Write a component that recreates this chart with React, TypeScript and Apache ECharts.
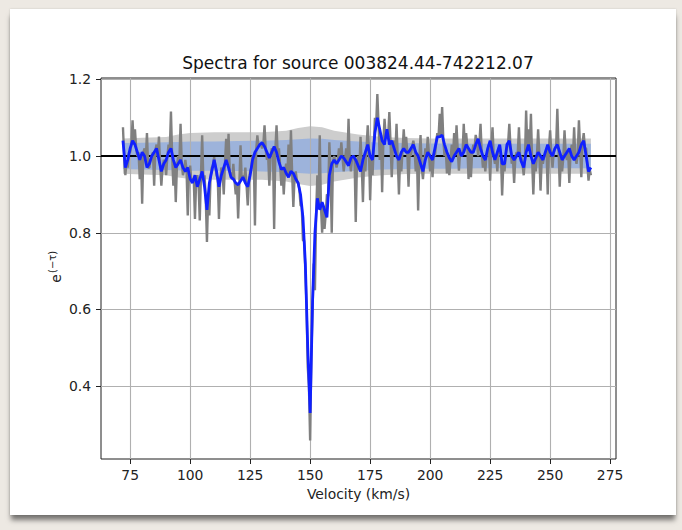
import React, { useEffect, useRef } from 'react';
import * as echarts from 'echarts';

const TITLE = 'Spectra for source 003824.44-742212.07';
const X_NAME = 'Velocity (km/s)';
const BLUE_START = 72;
const BLUE_STEP = 1;
const GRAY_START = 72;
const GRAY_STEP = 0.5;

// smoothed / model spectrum (blue), one value per km/s from 72 to 267
const BLUE = [
  1.04, 0.97, 0.99, 1.02, 1.04, 1.03, 1.01, 0.99, 1.01, 1.0,
  0.97, 0.98, 1.0, 1.01, 1.02, 0.99, 0.96, 0.98, 0.99, 1.01,
  1.02, 0.99, 0.97, 0.98, 0.99, 0.97, 0.96, 0.97, 0.94, 0.93,
  0.95, 0.92, 0.94, 0.96, 0.92, 0.86, 0.93, 0.96, 0.99, 0.96,
  0.92, 0.95, 0.97, 0.99, 0.97, 0.945, 0.94, 0.93, 0.925, 0.935,
  0.945, 0.93, 0.92, 0.95, 0.99, 1.01, 1.02, 1.03, 1.035, 1.025,
  1.01, 0.995, 1.01, 1.025, 1.01, 0.985, 0.965, 0.97, 0.955, 0.945,
  0.96, 0.955, 0.94, 0.93, 0.9, 0.84, 0.72, 0.5, 0.33, 0.62,
  0.8, 0.89, 0.86, 0.88, 0.86, 0.84, 0.95, 0.98, 0.99, 0.98,
  0.99, 1.0, 0.995, 0.985, 0.975, 0.995, 1.0, 0.99, 0.975, 0.96,
  0.99, 1.01, 1.03, 1.0, 0.99, 1.06, 1.1, 1.07, 1.04, 1.03,
  1.07, 1.03, 1.04, 1.02, 1.0, 0.99, 1.01, 1.02, 1.01, 1.01,
  1.02, 1.03, 1.01, 1.0, 0.98, 0.96, 0.99, 1.01, 1.0, 0.99,
  1.02, 1.05, 1.05, 1.055, 1.03, 1.01, 0.995, 0.985, 1.0, 1.01,
  1.02, 1.0, 1.01, 1.03, 1.02, 1.01, 1.01, 1.03, 1.045, 1.02,
  1.0, 0.99, 1.02, 1.04, 1.01, 0.99, 1.01, 1.03, 0.98, 0.98,
  1.03, 1.04, 1.0, 0.99, 1.0, 1.01, 0.985, 0.97, 1.01, 1.03,
  1.0, 0.98, 0.995, 1.01, 1.0, 0.99, 1.01, 1.03, 1.01, 1.0,
  1.02, 1.03, 1.01, 0.99, 1.0, 1.01, 1.02, 1.0, 0.99, 1.0,
  1.01, 1.03, 1.04, 1.0, 0.96, 0.97,
];

// raw spectrum (gray), one value per 0.5 km/s from 72 to 267 (pairs: v, v+0.5)
const GRAY = [
  1.075, 1.0, 0.95, 0.985, 0.97, 1.01, 1.01, 1.03, 1.093, 1.03,
  1.07, 1.02, 1.0, 1.01, 0.94, 1.0, 0.876, 1.01, 1.02, 0.99,
  1.06, 0.97, 0.97, 0.99, 1.0, 1.01, 0.923, 1.015, 1.03, 1.0,
  1.051, 0.975, 0.923, 0.97, 0.99, 0.985, 0.95, 1.0, 1.03, 1.015,
  1.116, 1.0, 0.923, 0.985, 0.88, 0.975, 1.0, 0.985, 1.084, 0.98,
  0.95, 0.965, 0.99, 0.965, 0.845, 0.955, 0.975, 0.935, 0.94, 0.94,
  0.836, 0.935, 0.95, 0.93, 0.832, 0.95, 1.054, 0.94, 0.95, 0.89,
  0.776, 0.895, 0.845, 0.945, 0.97, 0.975, 0.997, 0.975, 0.95, 0.94,
  0.836, 0.935, 0.97, 0.96, 0.9, 0.98, 1.045, 0.98, 1.058, 0.96,
  0.95, 0.94, 0.98, 0.935, 0.9, 0.93, 0.837, 0.93, 1.028, 0.94,
  0.95, 0.94, 0.97, 0.925, 0.871, 0.935, 0.96, 0.97, 1.0, 1.0,
  0.819, 1.015, 1.054, 1.025, 1.03, 1.03, 1.02, 1.03, 1.08, 1.015,
  0.99, 1.0, 0.923, 1.0, 1.02, 1.015, 0.81, 1.015, 1.08, 1.0,
  1.02, 0.975, 0.923, 0.965, 0.9, 0.96, 0.98, 0.95, 1.03, 0.95,
  1.067, 0.955, 0.867, 0.945, 0.96, 0.935, 0.93, 0.915, 0.871, 0.87,
  0.78, 0.78, 0.7, 0.61, 0.45, 0.4, 0.258, 0.48, 0.6, 0.72,
  0.65, 0.85, 0.95, 0.875, 1.054, 0.87, 0.8, 0.87, 0.81, 0.85,
  0.9, 0.895, 1.036, 0.965, 0.8, 0.985, 1.0, 0.985, 0.97, 0.985,
  1.02, 0.995, 1.036, 0.995, 0.96, 0.99, 1.02, 0.98, 1.097, 0.985,
  0.96, 0.997, 1.0, 0.995, 0.828, 0.98, 1.0, 0.968, 1.05, 0.975,
  0.88, 1.0, 0.96, 1.02, 1.08, 1.015, 0.885, 0.995, 0.95, 1.025,
  1.1, 1.08, 1.162, 1.085, 0.99, 1.055, 0.906, 1.035, 1.097, 1.05,
  1.06, 1.05, 1.115, 1.035, 0.945, 1.03, 1.04, 1.01, 1.084, 0.995,
  0.9, 1.0, 0.96, 1.015, 1.07, 1.015, 1.05, 1.01, 0.92, 1.015,
  1.0, 1.025, 1.04, 1.02, 0.96, 1.005, 0.858, 0.99, 1.055, 0.97,
  0.94, 0.975, 1.02, 1.0, 1.05, 1.005, 0.96, 0.995, 0.945, 1.005,
  1.0, 1.035, 1.06, 1.05, 1.11, 1.052, 1.128, 1.042, 1.0, 1.02,
  0.955, 1.0, 0.95, 0.99, 1.03, 0.992, 1.06, 1.005, 1.08, 1.015,
  0.962, 1.01, 1.0, 1.005, 1.084, 1.02, 1.06, 1.025, 0.94, 1.015,
  0.945, 1.01, 1.03, 1.02, 1.055, 1.038, 1.0, 1.032, 1.084, 1.01,
  0.97, 0.995, 0.96, 1.005, 1.0, 1.03, 0.936, 1.025, 1.075, 1.0,
  0.98, 1.0, 0.96, 1.02, 1.02, 1.005, 0.897, 0.98, 0.96, 1.005,
  1.02, 1.035, 1.084, 1.02, 0.98, 0.995, 0.93, 0.995, 1.01, 1.005,
  1.075, 0.998, 1.0, 0.978, 0.95, 0.99, 1.119, 1.02, 1.07, 1.015,
  1.11, 0.99, 0.9, 0.988, 0.96, 1.002, 1.07, 1.005, 0.91, 0.995,
  0.98, 1.0, 1.0, 1.02, 0.9, 1.02, 1.067, 1.005, 0.97, 1.01,
  1.02, 1.025, 1.123, 1.02, 0.92, 1.0, 0.96, 0.995, 1.067, 1.005,
  0.99, 1.015, 0.93, 1.01, 1.03, 0.995, 1.075, 0.995, 0.98, 1.005,
  1.093, 1.02, 0.945, 1.035, 1.06, 1.02, 1.02, 0.98, 0.936, 0.965,
  0.95,
];

// uncertainty bands
const BAND_V = [72, 80, 90, 95, 100, 110, 120, 130, 140, 145, 150, 155, 160, 170, 180, 190, 200, 210, 220, 230, 240, 250, 260, 267];
const GRAY_UP = [1.046, 1.048, 1.05, 1.056, 1.06, 1.062, 1.062, 1.062, 1.066, 1.073, 1.078, 1.075, 1.066, 1.056, 1.05, 1.047, 1.046, 1.046, 1.046, 1.046, 1.046, 1.046, 1.046, 1.046];
const GRAY_LO = [0.954, 0.952, 0.95, 0.944, 0.94, 0.938, 0.938, 0.938, 0.934, 0.927, 0.922, 0.925, 0.934, 0.944, 0.95, 0.953, 0.954, 0.954, 0.954, 0.954, 0.954, 0.954, 0.954, 0.954];
const BLUE_UP = [1.034, 1.035, 1.036, 1.037, 1.038, 1.038, 1.039, 1.04, 1.042, 1.044, 1.046, 1.045, 1.042, 1.038, 1.035, 1.034, 1.033, 1.033, 1.032, 1.032, 1.032, 1.032, 1.032, 1.032];
const BLUE_LO = [0.966, 0.965, 0.964, 0.963, 0.962, 0.962, 0.961, 0.96, 0.958, 0.956, 0.954, 0.955, 0.958, 0.962, 0.965, 0.966, 0.967, 0.967, 0.968, 0.968, 0.968, 0.968, 0.968, 0.968];

const X_TICKS = [75, 100, 125, 150, 175, 200, 225, 250, 275];
const Y_TICKS = [0.4, 0.6, 0.8, 1.0, 1.2];
const X_MIN = 62.85;
const X_MAX = 277.45;
const Y_MIN = 0.21;
const Y_MAX = 1.2036;
const REF_LEVEL = 1.0;

const FONT = '"DejaVu Sans", "Liberation Sans", sans-serif';

function bandSeries(up: number[], lo: number[], fill: string, z: number) {
  return {
    type: 'custom',
    data: [[BAND_V[0], up[0]]],
    silent: true,
    z,
    renderItem: (_params: any, api: any) => {
      const top = BAND_V.map((v, i) => api.coord([v, up[i]]));
      const bottom = BAND_V.map((v, i) => api.coord([v, lo[i]])).reverse();
      return {
        type: 'polygon',
        shape: { points: [...top, ...bottom] },
        style: { fill, stroke: 'none' },
      };
    },
  };
}

export default function App() {
  const ref = useRef<HTMLDivElement>(null);

  useEffect(() => {
    const chart = echarts.init(ref.current!, null, { renderer: 'svg' });
    const blueData = BLUE.map((y, i) => [BLUE_START + i * BLUE_STEP, y]);
    const grayData = GRAY.map((y, i) => [GRAY_START + i * GRAY_STEP, y]);

    const tickColor = '#222';
    const labelStyle = { color: '#222', fontSize: 13.9, fontFamily: FONT };

    chart.setOption({
      animation: false,
      backgroundColor: 'transparent',
      grid: {
        left: 101, top: 78, width: 515, height: 381,
        show: true, borderColor: '#1e1e1e', borderWidth: 1,
        backgroundColor: 'transparent',
        outerBoundsMode: 'none',
      },
      xAxis: {
        type: 'value', min: X_MIN, max: X_MAX,
        axisLine: { show: false, onZero: false },
        axisTick: { show: true, length: 5, customValues: X_TICKS, lineStyle: { color: tickColor, width: 1 } },
        axisLabel: { ...labelStyle, customValues: X_TICKS, margin: 9 },
        splitLine: { show: false },
        name: X_NAME, nameLocation: 'middle', nameGap: 28,
        nameTextStyle: { ...labelStyle },
      },
      yAxis: {
        type: 'value', min: Y_MIN, max: Y_MAX,
        axisLine: { show: false, onZero: false },
        axisTick: { show: true, length: 5, customValues: Y_TICKS, lineStyle: { color: tickColor, width: 1 } },
        axisLabel: { ...labelStyle, customValues: Y_TICKS, margin: 10, formatter: (v: number) => v.toFixed(1) },
        splitLine: { show: false },
      },
      graphic: [
        {
          type: 'text', x: 358, y: 63, z: 10,
          style: { text: TITLE, fontSize: 17, fontFamily: FONT, fill: '#111', align: 'center', verticalAlign: 'middle' },
        },
        {
          type: 'group', x: 56, y: 268, rotation: Math.PI / 2,
          children: [
            { type: 'text', x: -6, y: 0, style: { text: 'e', fontSize: 14, fontFamily: FONT, fill: '#222', align: 'right', verticalAlign: 'middle' } },
            { type: 'text', x: -5, y: -4, style: { text: '(\u2212\u03c4)', fontSize: 10, fontFamily: FONT, fill: '#222', align: 'left', verticalAlign: 'middle' } },
          ],
        },
      ],
      series: [
        bandSeries(GRAY_UP, GRAY_LO, '#cdcdcd', 1),
        bandSeries(BLUE_UP, BLUE_LO, 'rgba(100,149,237,0.45)', 1),
        {
          type: 'line', name: 'grid', data: [[BLUE_START, REF_LEVEL]], showSymbol: false, symbol: 'none',
          lineStyle: { width: 0, opacity: 0 }, silent: true, z: 2,
          markLine: {
            silent: true, symbol: 'none', z: 2, animation: false,
            label: { show: false },
            lineStyle: { color: '#b0b0b0', width: 1.1, type: 'solid' },
            emphasis: { disabled: true },
            data: [...X_TICKS.map((v) => ({ xAxis: v })), ...Y_TICKS.map((v) => ({ yAxis: v }))],
          },
        },
        {
          type: 'line', name: 'ref', data: [[BLUE_START, REF_LEVEL]], showSymbol: false, symbol: 'none',
          lineStyle: { width: 0, opacity: 0 }, silent: true, z: 3,
          markLine: {
            silent: true, symbol: 'none', z: 3, animation: false,
            label: { show: false },
            lineStyle: { color: '#000', width: 1.8, type: 'solid' },
            emphasis: { disabled: true },
            data: [{ yAxis: REF_LEVEL }],
          },
        },
        {
          type: 'line', name: 'spectrum', data: grayData, showSymbol: false, symbol: 'none',
          lineStyle: { color: '#808080', width: 2.4 }, z: 4, silent: true,
        },
        {
          type: 'line', name: 'model', data: blueData, showSymbol: false, symbol: 'none',
          lineStyle: { color: '#1020ff', width: 2.8 }, z: 5, silent: true,
        },
      ],
    });
    return () => chart.dispose();
  }, []);

  return (
    <div style={{ position: 'fixed', left: 0, top: 0, width: 682, height: 530, background: '#ede9e3', overflow: 'hidden' }}>
      <div style={{ position: 'absolute', left: 10, top: 9, width: 666, height: 506, background: '#ffffff', boxShadow: '0 6px 5px -1px rgba(0,0,0,0.5), 0 0 2px rgba(0,0,0,0.15)' }} />
      <div ref={ref} style={{ position: 'absolute', left: 0, top: 0, width: 682, height: 530 }} />
    </div>
  );
}
